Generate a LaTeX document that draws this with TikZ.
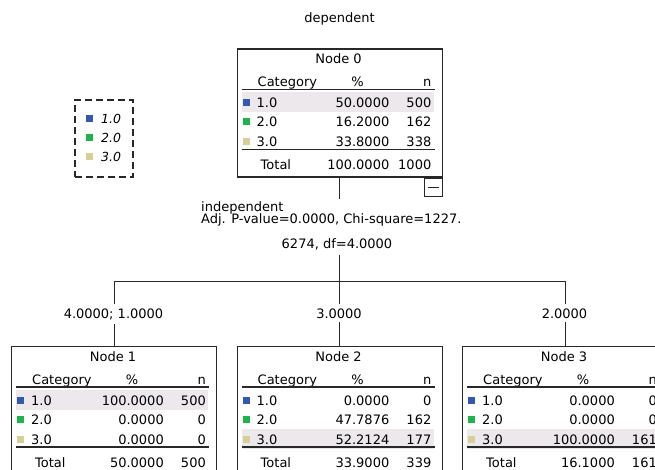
\documentclass[tikz,border=0pt]{standalone}
\usepackage{fontspec}
\setmainfont{DejaVu Sans}
\usetikzlibrary{positioning}

\definecolor{cat1}{RGB}{52,88,178}
\definecolor{cat2}{RGB}{34,178,76}
\definecolor{cat3}{RGB}{214,207,152}
\definecolor{rowshade}{RGB}{236,232,236}
\definecolor{linecol}{RGB}{40,40,40}

% one tree node: name, left, top, title, shaded row, rows (pct/n), total pct, total n
\newcommand{\catnode}[8]{%
  \begin{scope}[shift={(#2,#3)}]
    \fill[rowshade] (5,{44+19.5*(#5-1)}) rectangle (197,{64+19.5*(#5-1)});
    \node[anchor=base] (#1title) at (102,15) {#4};
    \node[anchor=base west] (#1hc) at (21,38) {Category};
    \node[anchor=base] (#1hp) at (121,38) {\%};
    \node[anchor=base east] (#1hn) at (195,38) {n};
    \draw[rule] (5,41) -- (198,41);
    \foreach \pct/\cnt [count=\i] in {#6} {
      \pgfmathsetmacro{\yb}{59+19.5*(\i-1)}
      \fill[cat\i] (6,\yb-8.5) rectangle (13,\yb-1.5);
      \node[anchor=base west] (#1c\i) at (20,\yb) {\i.0};
      \node[anchor=base east] (#1p\i) at (153,\yb) {\pct};
      \node[anchor=base east] (#1n\i) at (195,\yb) {\cnt};
    }
    \draw[rule] (5,101) -- (198,101);
    \node[anchor=base west] (#1tl) at (24,121) {Total};
    \node[anchor=base east] (#1tp) at (153,121) {#7};
    \node[anchor=base east] (#1tn) at (195,121) {#8};
    \node[treebox, anchor=north west] (#1) at (0,0) {};
  \end{scope}}

\begin{document}
\begin{tikzpicture}[x=1pt, y=-1pt,
    every node/.style={inner sep=0pt, font=\fontsize{13}{15}\selectfont},
    treebox/.style={rectangle, draw=linecol, line width=1.3pt, minimum width=205, minimum height=128},
    rule/.style={draw=linecol, line width=1.3pt},
    edge/.style={draw=linecol, line width=1.3pt},
    brlabel/.style={fill=white, inner xsep=2pt, inner ysep=4pt},
    legendbox/.style={rectangle, draw=linecol, line width=1.2pt, dash pattern=on 7pt off 4pt, minimum width=58, minimum height=77}
]
\fill[white] (0,0) rectangle (655,470);
\useasboundingbox (0,0) rectangle (655,470);

% Title
\node[anchor=base] (title) at (339.5,23) {dependent};

% Legend
\node[legendbox] (legend) at (104,138.5) {};
\foreach \k/\y in {1/119, 2/138, 3/157} {
  \fill[cat\k] (86,\y-3.5) rectangle (93,\y+3.5);
  \node[anchor=base west, font=\fontsize{12.5}{15}\selectfont\itshape] (leg\k) at (101,\y+5) {\k.0};
}

% Tree nodes
\catnode{n0}{236.5}{48.5}{Node 0}{1}{50.0000/500, 16.2000/162, 33.8000/338}{100.0000}{1000}
\catnode{n1}{11}{346}{Node 1}{1}{100.0000/500, 0.0000/0, 0.0000/0}{50.0000}{500}
\catnode{n2}{236.5}{346}{Node 2}{3}{0.0000/0, 47.7876/162, 52.2124/177}{33.9000}{339}
\catnode{n3}{462}{346}{Node 3}{3}{0.0000/0, 0.0000/0, 100.0000/161}{16.1000}{161}

% Collapse toggle
\node[rectangle, draw=linecol, line width=1.2pt, minimum width=18, minimum height=18, anchor=north east] (toggle) at (n0.south east) {};
\draw[edge, line width=1pt] ([xshift=4pt]toggle.west) -- ([xshift=-4pt]toggle.east);

% Split label
\node[anchor=base west, inner ysep=3pt] (splitA) at (201,212) {independent};
\node[anchor=base west] (splitB) at (201,224) {Adj. P-value=0.0000, Chi-square=1227.};
\node[anchor=base, inner ysep=5pt] (splitC) at (337,248) {6274, df=4.0000};
\coordinate (fork) at (n0.south |- 0,281.5);

% Connectors
\draw[edge] (n0.south) -- (n0.south |- splitA.north);
\draw[edge] (n0.south |- splitC.south) -- (fork);
\draw[edge] (fork) -| (n1.north);
\draw[edge] (fork) -- (n2.north);
\draw[edge] (fork) -| (n3.north);

% Branch labels
\node[brlabel, anchor=base] (b1) at (113.5,318) {4.0000; 1.0000};
\node[brlabel, anchor=base] (b2) at (339,318) {3.0000};
\node[brlabel, anchor=base] (b3) at (564.5,318) {2.0000};

\end{tikzpicture}
\end{document}
